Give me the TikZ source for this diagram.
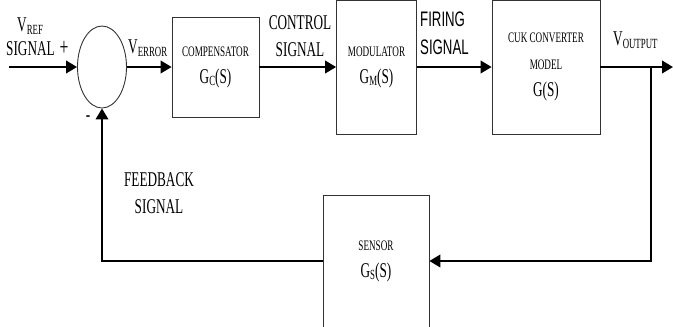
\documentclass[tikz,border=0pt]{standalone}
\usepackage{fontspec}
\setmainfont{Liberation Serif}
\newfontfamily\firingfont{Liberation Sans}
\usepackage{graphicx}
\usetikzlibrary{arrows.meta,shapes,positioning,calc}
\newcommand{\nar}[1]{\scalebox{0.63}[1]{#1}}
\newcommand{\bigtxt}{\fontsize{21}{27}\selectfont}
\newcommand{\subtxt}[1]{\raisebox{-2.5pt}{\fontsize{14}{14}\selectfont #1}}

\begin{document}
\begin{tikzpicture}[x=1pt,y=-1pt,
    block/.style={draw=black!80, line width=0.8pt, inner sep=0pt, align=center,
        font=\fontsize{14.5}{27}\selectfont},
    sumnode/.style={draw=black!80, line width=0.9pt, ellipse, inner sep=0pt,
        minimum width=49pt, minimum height=82pt},
    sig/.style={line width=2.2pt, -{Triangle[length=11pt,width=12.5pt]}},
    lbl/.style={inner sep=0pt, align=center, font=\bigtxt}]

\useasboundingbox (0,0) rectangle (673,327);

% Blocks
\node[sumnode] (sum) at (102,67) {};
\node[block, minimum width=87pt, minimum height=100pt] (comp) at (215.5,67)
    {\nar{COMPENSATOR}\\\nar{\bigtxt G\subtxt{C}(S)}};
\node[block, minimum width=80pt, minimum height=134pt] (modu) at (376.5,67)
    {\nar{MODULATOR}\\\nar{\bigtxt G\subtxt{M}(S)}};
\node[block, minimum width=108pt, minimum height=134pt] (cuk) at (546,67)
    {\nar{CUK CONVERTER}\\\nar{MODEL}\\\nar{\bigtxt G(S)}};
\node[block, minimum width=106pt, minimum height=132pt] (sens) at (376,261)
    {\nar{SENSOR}\\\nar{\bigtxt G\subtxt{S}(S)}};

% Labels
\node[lbl, anchor=north west] (vref) at (17,18) {\nar{V\subtxt{REF}}};
\node[lbl, anchor=north west] (sigin) at (6,41)
    {\nar{SIGNAL\hspace{8pt}{\fontsize{25}{27}\selectfont +}}};
\node[lbl, anchor=north west] (verr) at (128,40) {\nar{V\subtxt{ERROR}}};
\node[lbl, anchor=north] (ctrl) at (300,15) {\nar{CONTROL}\\\nar{SIGNAL}};
\node[lbl, anchor=north west, align=left, font=\firingfont\fontsize{21}{28}\selectfont]
    (fire) at (420,12) {\nar{FIRING}\\\nar{SIGNAL}};
\node[lbl, anchor=north west] (vout) at (613,32) {\nar{V\subtxt{OUTPUT}}};
\node[lbl, anchor=north] (fb) at (159,172) {\nar{FEEDBACK}\\\nar{SIGNAL}};
\node[lbl] (minus) at (88,119) {\nar{-}};

% Forward path
\coordinate (in) at (9,67);
\coordinate (out) at (673,67);
\coordinate (br) at (651,67);
\draw[sig] (in) -- (sum.west);
\draw[sig] (sum.east) -- (comp.west);
\draw[sig] (comp.east) -- (modu.west);
\draw[sig] (modu.east) -- (cuk.west);
\draw[sig] (cuk.east) -- (out);

% Feedback path
\draw[sig] (br) |- (sens.east);
\draw[sig] (sens.west) -| (sum.south);
\end{tikzpicture}
\end{document}
